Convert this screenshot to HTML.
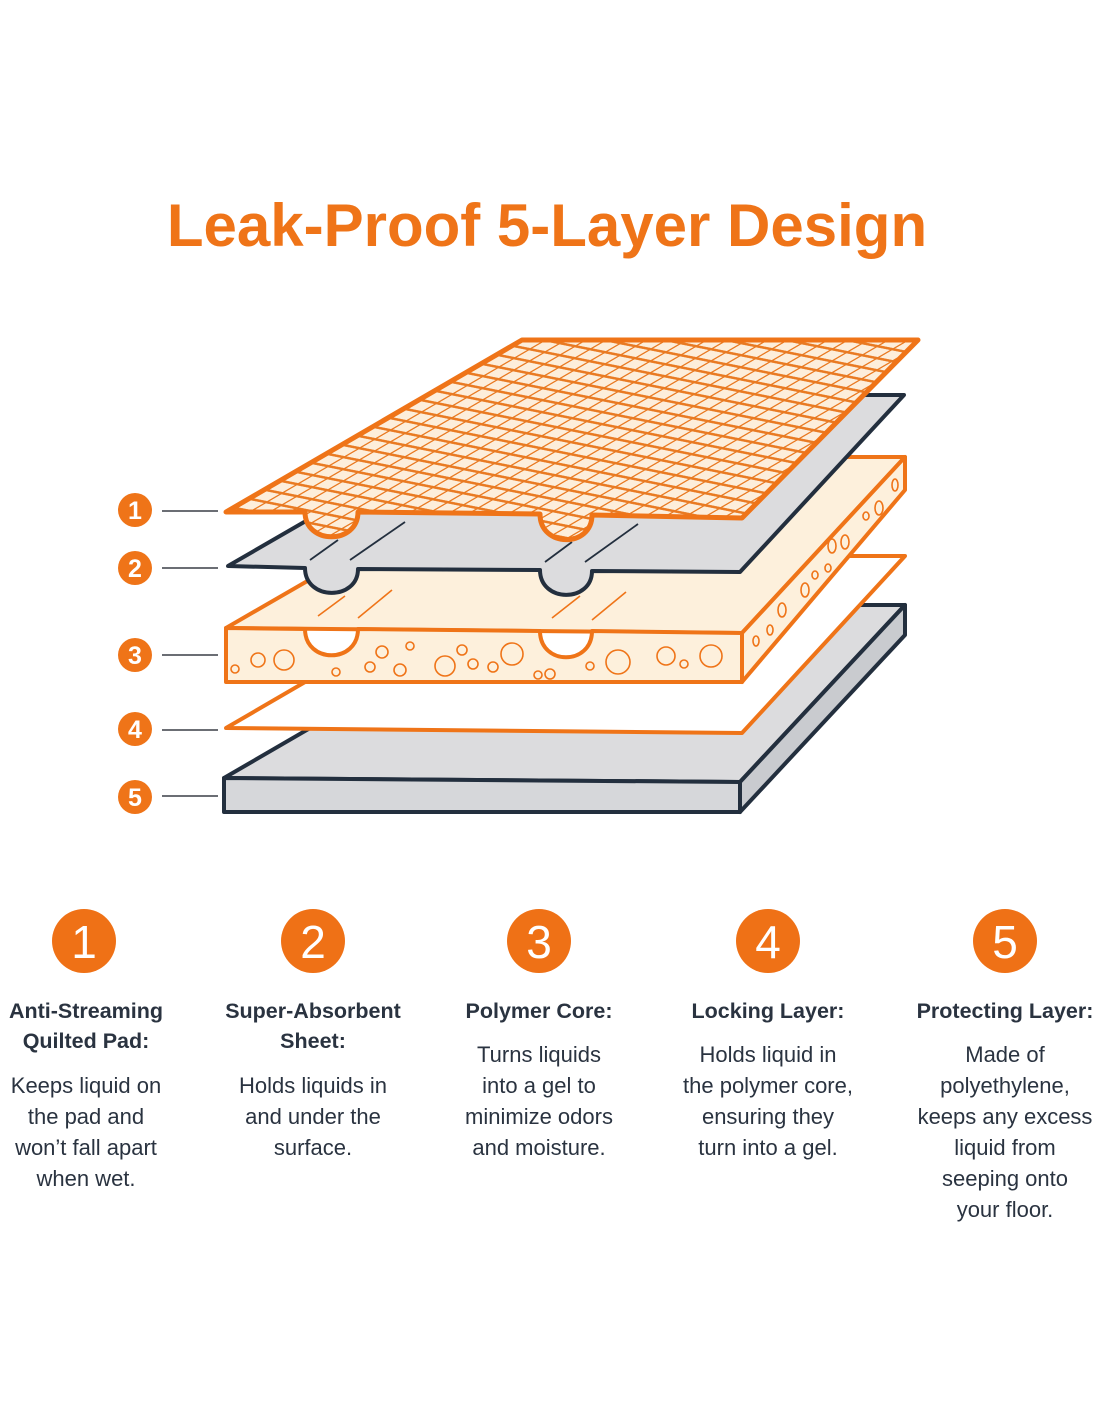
<!DOCTYPE html>
<html><head><meta charset="utf-8"><style>
html,body{margin:0;padding:0;background:#fff;}
svg{display:block;}
.h{font-family:"Liberation Sans",sans-serif;font-weight:bold;font-size:21.5px;fill:#2a3340;text-anchor:middle;}
.b{font-family:"Liberation Sans",sans-serif;font-size:22px;fill:#2a3340;text-anchor:middle;}
.n{font-family:"Liberation Sans",sans-serif;font-size:46px;fill:#fff;text-anchor:middle;}
.s{font-family:"Liberation Sans",sans-serif;font-weight:bold;font-size:25px;fill:#fff;text-anchor:middle;}
</style></head><body>
<svg width="1100" height="1422" viewBox="0 0 1100 1422" xmlns="http://www.w3.org/2000/svg">
<defs>
<pattern id="hatch" width="15" height="9" patternUnits="userSpaceOnUse" patternTransform="matrix(1 0.2 -1.72 1 0 0)">
<rect width="15" height="9" fill="#fdeedb"/>
<line x1="0" y1="1" x2="15" y2="1" stroke="#e97a22" stroke-width="1.9"/>
<line x1="1" y1="0" x2="1" y2="9" stroke="#e97a22" stroke-width="1.9"/>
</pattern>
</defs>
<text x="547" y="246" font-family="Liberation Sans, sans-serif" font-weight="bold" font-size="60" fill="#ef7418" text-anchor="middle">Leak-Proof 5-Layer Design</text>

<!-- Layer 5 -->
<g stroke="#232f3e" stroke-width="4" stroke-linejoin="round">
<polygon points="224,778 522,605 905,605 740,782" fill="#dcdcde"/>
<polygon points="224,778 740,782 740,812 224,812" fill="#d6d7da"/>
<polygon points="740,782 905,605 905,635 740,812" fill="#c9cbcf"/>
</g>
<!-- Layer 4 -->
<polygon points="226,728 522,556 905,556 742,733" fill="#fff" stroke="#ef7418" stroke-width="4" stroke-linejoin="round"/>
<!-- Layer 3 -->
<g stroke="#ef7418" stroke-width="4" stroke-linejoin="round">
<polygon points="226,628 522,457 905,457 742,633" fill="#fdf0dc"/>
<polygon points="742,633 905,457 905,490 742,682" fill="#fdf0dc"/>
<path d="M226,628 L305,629 C305,664 358,664 358,629 L540,631 C540,666 592,666 592,631 L742,633 L742,682 L226,682 Z" fill="#fdf0dc"/>
</g>
<g stroke="#ef7418" stroke-width="1.6" fill="none">
<line x1="318" y1="616" x2="345" y2="596"/><line x1="358" y1="618" x2="392" y2="590"/>
<line x1="552" y1="618" x2="580" y2="596"/><line x1="592" y1="620" x2="626" y2="592"/>
<circle cx="258" cy="660" r="7"/><circle cx="284" cy="660" r="10"/><circle cx="235" cy="669" r="4"/>
<circle cx="336" cy="672" r="4"/><circle cx="370" cy="667" r="5"/><circle cx="382" cy="652" r="6"/><circle cx="400" cy="670" r="6"/><circle cx="410" cy="646" r="4"/>
<circle cx="445" cy="666" r="10"/><circle cx="462" cy="650" r="5"/><circle cx="473" cy="664" r="5"/><circle cx="493" cy="667" r="5"/><circle cx="512" cy="654" r="11"/>
<circle cx="538" cy="675" r="4"/><circle cx="550" cy="674" r="5"/><circle cx="590" cy="666" r="4"/><circle cx="618" cy="662" r="12"/>
<circle cx="666" cy="656" r="9"/><circle cx="684" cy="664" r="4"/><circle cx="711" cy="656" r="11"/>
<ellipse cx="756" cy="641" rx="3" ry="5"/><ellipse cx="770" cy="630" rx="3" ry="5"/><ellipse cx="782" cy="610" rx="4" ry="7"/>
<ellipse cx="805" cy="590" rx="4" ry="7"/><ellipse cx="815" cy="575" rx="3" ry="4"/><ellipse cx="828" cy="568" rx="3" ry="4"/>
<ellipse cx="832" cy="546" rx="4" ry="7"/><ellipse cx="845" cy="542" rx="4" ry="7"/>
<ellipse cx="866" cy="516" rx="3" ry="4"/><ellipse cx="879" cy="508" rx="4" ry="7"/><ellipse cx="895" cy="485" rx="3" ry="6"/>
</g>
<!-- Layer 2 -->
<path d="M228,566 L524,395 L904,395 L740,572 L592,571 C592,603 540,603 540,570 L358,569 C358,601 305,601 305,568 Z" fill="#dcdcde" stroke="#232f3e" stroke-width="4" stroke-linejoin="round"/>
<g stroke="#232f3e" stroke-width="1.8">
<line x1="310" y1="560" x2="338" y2="540"/><line x1="350" y1="560" x2="405" y2="522"/>
<line x1="545" y1="562" x2="572" y2="542"/><line x1="585" y1="562" x2="638" y2="524"/>
</g>
<!-- Layer 1 -->
<path d="M226,512 L522,340 L918,340 L742,518 L592,515 C592,548 540,548 540,514 L358,512 C358,545 305,545 305,512 Z" fill="url(#hatch)" stroke="#ef7418" stroke-width="5" stroke-linejoin="round"/>

<!-- left labels -->
<g stroke="#3a3f46" stroke-width="1.6">
<line x1="162" y1="511" x2="218" y2="511"/><line x1="162" y1="568" x2="218" y2="568"/>
<line x1="162" y1="655" x2="218" y2="655"/><line x1="162" y1="730" x2="218" y2="730"/><line x1="162" y1="796" x2="218" y2="796"/>
</g>
<g fill="#ef7418">
<circle cx="135" cy="510" r="17"/><circle cx="135" cy="568" r="17"/><circle cx="135" cy="655" r="17"/><circle cx="135" cy="729" r="17"/><circle cx="135" cy="797" r="17"/>
</g>
<text class="s" x="135" y="519">1</text><text class="s" x="135" y="577">2</text><text class="s" x="135" y="664">3</text><text class="s" x="135" y="738">4</text><text class="s" x="135" y="806">5</text>

<!-- bottom circles -->
<g fill="#ef7116">
<circle cx="84" cy="941" r="32"/><circle cx="313" cy="941" r="32"/><circle cx="539" cy="941" r="32"/><circle cx="768" cy="941" r="32"/><circle cx="1005" cy="941" r="32"/>
</g>
<text class="n" x="84" y="958">1</text><text class="n" x="313" y="958">2</text><text class="n" x="539" y="958">3</text><text class="n" x="768" y="958">4</text><text class="n" x="1005" y="958">5</text>

<text class="h" x="86" y="1018">Anti-Streaming</text><text class="h" x="86" y="1048">Quilted Pad:</text>
<text class="b" x="86" y="1093">Keeps liquid on</text><text class="b" x="86" y="1124">the pad and</text><text class="b" x="86" y="1155">won’t fall apart</text><text class="b" x="86" y="1186">when wet.</text>

<text class="h" x="313" y="1018">Super-Absorbent</text><text class="h" x="313" y="1048">Sheet:</text>
<text class="b" x="313" y="1093">Holds liquids in</text><text class="b" x="313" y="1124">and under the</text><text class="b" x="313" y="1155">surface.</text>

<text class="h" x="539" y="1018">Polymer Core:</text>
<text class="b" x="539" y="1062">Turns liquids</text><text class="b" x="539" y="1093">into a gel to</text><text class="b" x="539" y="1124">minimize odors</text><text class="b" x="539" y="1155">and moisture.</text>

<text class="h" x="768" y="1018">Locking Layer:</text>
<text class="b" x="768" y="1062">Holds liquid in</text><text class="b" x="768" y="1093">the polymer core,</text><text class="b" x="768" y="1124">ensuring they</text><text class="b" x="768" y="1155">turn into a gel.</text>

<text class="h" x="1005" y="1018">Protecting Layer:</text>
<text class="b" x="1005" y="1062">Made of</text><text class="b" x="1005" y="1093">polyethylene,</text><text class="b" x="1005" y="1124">keeps any excess</text><text class="b" x="1005" y="1155">liquid from</text><text class="b" x="1005" y="1186">seeping onto</text><text class="b" x="1005" y="1217">your floor.</text>
</svg>
</body></html>
